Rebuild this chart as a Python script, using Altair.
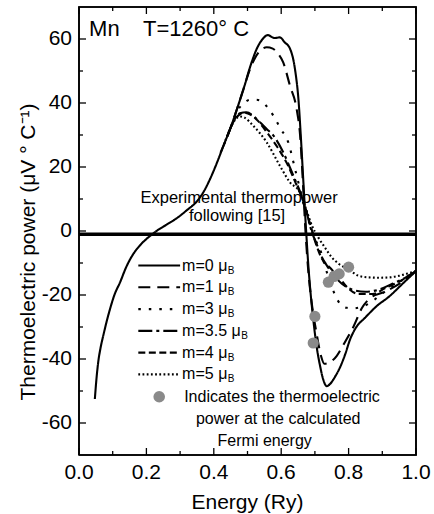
import altair as alt
import pandas as pd

# ---------------- data ----------------
series_names = ["m=0", "m=1", "m=3", "m=3.5", "m=4", "m=5"]

m0_x = [0.047, 0.052, 0.057, 0.064, 0.072, 0.082, 0.092, 0.105, 0.122, 0.14, 0.161, 0.18, 0.2, 0.215,
        0.23, 0.26, 0.29, 0.32, 0.35, 0.37, 0.39, 0.41, 0.43, 0.45, 0.47, 0.49, 0.51, 0.53, 0.545,
        0.56, 0.58, 0.596, 0.61, 0.626, 0.641, 0.652, 0.658, 0.666, 0.674, 0.68, 0.686, 0.695,
        0.705, 0.715, 0.725, 0.735, 0.745, 0.76, 0.775, 0.79, 0.804, 0.82, 0.85, 0.883, 0.92, 0.96, 1.0]
m0_y = [-52.5, -46, -41, -36.5, -32.7, -28.3, -24.4, -20, -16, -11.3, -7.2, -4.6, -2.5, -1.2,
        0, 2, 4, 6.5, 9.3, 12.3, 16.5, 21.5, 27, 32.3, 38.5, 45, 52, 57.5, 60,
        61.2, 60.3, 60.5, 59, 57, 50.5, 40, 30, 15, 0, -10, -18, -27.5,
        -36, -42, -46.5, -48.5, -47.8, -45.5, -42.5, -38.5, -34, -30.5, -27, -23.5, -20.5, -16.5, -12.5]

m1_x = [0.42, 0.45, 0.47, 0.49, 0.507, 0.522, 0.537, 0.557, 0.575, 0.59, 0.606, 0.626, 0.646, 0.656,
        0.665, 0.672, 0.68, 0.69, 0.705, 0.718, 0.728, 0.745, 0.765, 0.785, 0.814, 0.84, 0.87, 0.9, 0.95, 1.0]
m1_y = [24.5, 32.3, 38.5, 45, 50.5, 54, 56.3, 57.4, 57, 55.5, 52.7, 45.4, 38, 30,
        14, 0, -12, -22, -32, -39, -41.5, -41, -39, -35.5, -30, -24, -20.5, -19.3, -16.5, -12.5]

m3_x = [0.45, 0.47, 0.49, 0.507, 0.525, 0.545, 0.56, 0.577, 0.598, 0.621, 0.641, 0.656, 0.672, 0.686,
        0.70, 0.715, 0.73, 0.745, 0.76, 0.775, 0.795, 0.814, 0.835, 0.858, 0.9, 0.95, 1.0]
m3_y = [32.3, 37.5, 40, 41, 41, 40.4, 38.5, 36, 32, 27.7, 19.4, 13, 6, 1.7,
        -2.5, -5.6, -11, -16, -20, -22.8, -24, -24.2, -23.8, -22.8, -19.5, -16, -12.5]

m35_x = [0.44, 0.46, 0.477, 0.497, 0.517, 0.537, 0.557, 0.577, 0.606, 0.636, 0.656, 0.675, 0.69,
         0.705, 0.72, 0.74, 0.757, 0.78, 0.81, 0.85, 0.89, 0.93, 0.97, 1.0]
m35_y = [29.6, 34.5, 36.8, 37.1, 36, 34, 31.9, 29.8, 24.6, 17.3, 12.2, 6, 0,
         -4, -8, -11.5, -14, -16.5, -18.3, -19, -18.3, -16.5, -14.5, -12.5]

m4_x = [0.44, 0.46, 0.475, 0.49, 0.51, 0.53, 0.56, 0.59, 0.62, 0.645, 0.665, 0.685, 0.70, 0.72,
        0.745, 0.772, 0.795, 0.83, 0.87, 0.91, 0.95, 1.0]
m4_y = [29.6, 34.5, 36.3, 37, 36.3, 34.5, 30.5, 26, 20.5, 14.5, 9.5, 2.5, -3, -8.5,
        -11.5, -14.5, -17.5, -19.7, -19.7, -17.8, -15.8, -12.5]

m5_x = [0.43, 0.45, 0.465, 0.478, 0.49, 0.517, 0.557, 0.596, 0.626, 0.656, 0.675, 0.69, 0.71, 0.73,
        0.75, 0.77, 0.79, 0.81, 0.83, 0.86, 0.89, 0.92, 0.95, 0.975, 1.0]
m5_y = [27, 32.3, 35, 35.8, 35.5, 32.9, 27.7, 20.4, 15.2, 12, 6.5, 2, -2, -5.2,
        -8.2, -10.2, -11.5, -12.8, -14, -14.5, -14.6, -14.5, -14, -13.3, -12.5]

# thermoelectric power at the calculated Fermi energies
fermi_x = [0.695, 0.70, 0.74, 0.757, 0.772, 0.80]
fermi_y = [-35, -26.7, -16, -14.2, -13.4, -11.3]

# experimental thermopower
exp_x = [0.0, 1.0]
exp_y = [-1.0, -1.0]

x_domain = [0.0, 1.0]
y_domain = [-70, 70]
x_ticks_major = [0.0, 0.2, 0.4, 0.6, 0.8, 1.0]
x_ticks_minor = [0.1, 0.3, 0.5, 0.7, 0.9]
y_ticks_major = [-60, -40, -20, 0, 20, 40, 60]
y_ticks_minor = [-50, -30, -10, 10, 30, 50]
x_title = "Energy (Ry)"
y_title = "Thermoelectric power (μV ° C⁻¹)"

# ---------------- build tables ----------------
xs = [m0_x, m1_x, m3_x, m35_x, m4_x, m5_x]
ys = [m0_y, m1_y, m3_y, m35_y, m4_y, m5_y]
curves = pd.concat(
    [pd.DataFrame({"x": a, "y": b, "series": n}) for n, a, b in zip(series_names, xs, ys)],
    ignore_index=True,
)
fermi = pd.DataFrame({"x": fermi_x, "y": fermi_y})
exp_df = pd.DataFrame({"x": exp_x, "y": exp_y})

FONT = "Liberation Sans"
W, H = 337, 448
MAJ, MIN = 7, 4
dash_range = [[1, 0], [12, 7], [2.5, 8], [14, 4, 3, 4], [7, 3.5], [1.8, 2.4]]
width_range = [2.1, 2.1, 2.7, 2.1, 2.1, 1.9]
dash_scale = alt.Scale(domain=series_names, range=dash_range)
sw_scale = alt.Scale(domain=series_names, range=width_range)

xs_scale = alt.Scale(domain=x_domain, nice=False, zero=False)
ys_scale = alt.Scale(domain=y_domain, nice=False, zero=False)
y_per_px = (y_domain[1] - y_domain[0]) / H
x_per_px = (x_domain[1] - x_domain[0]) / W


def X(field="x"):
    return alt.X(f"{field}:Q", scale=xs_scale, axis=None)


def Y(field="y"):
    return alt.Y(f"{field}:Q", scale=ys_scale, axis=None)


lines = alt.Chart(curves).mark_line(color="black", interpolate="monotone").encode(
    x=X("x"),
    y=Y("y"),
    detail="series:N",
    strokeDash=alt.StrokeDash("series:N", scale=dash_scale, legend=None),
    strokeWidth=alt.StrokeWidth("series:N", scale=sw_scale, legend=None),
)

exp_line = alt.Chart(exp_df).mark_line(color="black", strokeWidth=3.5).encode(
    x=X("x"), y=Y("y")
)

dots = alt.Chart(fermi).mark_circle(color="#8a8a8a", opacity=1, size=125).encode(
    x=X("x"), y=Y("y")
)

# ---------------- frame and inward ticks drawn as line paths ----------------
x0, x1 = x_domain
y0, y1 = y_domain
frame_df = pd.DataFrame({"x": [x0, x1, x1, x0, x0], "y": [y0, y0, y1, y1, y0], "o": [0, 1, 2, 3, 4]})
frame = alt.Chart(frame_df).mark_line(color="black", strokeWidth=1.6).encode(
    x=X("x"), y=Y("y"), order="o:Q")

seg = []
k = 0
for vals, size in [(x_ticks_major, MAJ), (x_ticks_minor, MIN)]:
    for v in vals:
        for ya, yb in [(y0, y0 + size * y_per_px), (y1, y1 - size * y_per_px)]:
            seg += [{"id": k, "o": 0, "x": v, "y": ya}, {"id": k, "o": 1, "x": v, "y": yb}]
            k += 1
for vals, size in [(y_ticks_major, MAJ), (y_ticks_minor, MIN)]:
    for v in vals:
        for xa, xb in [(x0, x0 + size * x_per_px), (x1, x1 - size * x_per_px)]:
            seg += [{"id": k, "o": 0, "x": xa, "y": v}, {"id": k, "o": 1, "x": xb, "y": v}]
            k += 1
ticks = alt.Chart(pd.DataFrame(seg)).mark_line(color="black", strokeWidth=1.3).encode(
    x=X("x"), y=Y("y"), detail="id:N", order="o:Q")

# ---------------- tick labels and titles ----------------
xlab_df = pd.DataFrame({"x": x_ticks_major, "y": y0, "t": [f"{v:.1f}" for v in x_ticks_major]})
ylab_df = pd.DataFrame({"x": x0, "y": y_ticks_major, "t": [str(v) for v in y_ticks_major]})
xlabels = alt.Chart(xlab_df).mark_text(align="center", baseline="top", font=FONT, fontSize=21,
                                       color="black", dy=7).encode(x=X("x"), y=Y("y"), text="t:N")
ylabels = alt.Chart(ylab_df).mark_text(align="right", baseline="middle", font=FONT, fontSize=21,
                                       color="black", dx=-7).encode(x=X("x"), y=Y("y"), text="t:N")
xtitle = alt.Chart(pd.DataFrame({"x": [(x0 + x1) / 2], "y": [y0], "t": [x_title]})).mark_text(
    align="center", baseline="top", font=FONT, fontSize=21, color="black", dy=37
).encode(x=X("x"), y=Y("y"), text="t:N")
ytitle = alt.Chart(pd.DataFrame({"x": [x0 - 50 * x_per_px],
                                 "y": [(y0 + y1) / 2 - 21 * y_per_px], "t": [y_title]})).mark_text(
    align="center", baseline="middle", font=FONT, fontSize=21, color="black", angle=270
).encode(x=X("x"), y=Y("y"), text="t:N")

# ---------------- legend (drawn inside the plot) ----------------
leg_y0, leg_step = -10.8, -6.8
leg_x1, leg_x2, leg_tx = 0.176, 0.300, 0.306
arial = {"m": 833, "=": 584, "0": 556, "1": 556, "3": 556, "4": 556, "5": 556, ".": 278, " ": 278, "μ": 576}
leg_rows = []
for i, n in enumerate(series_names):
    lab = n + " μ"
    leg_rows.append({"series": n, "x1": leg_x1, "x2": leg_x2, "tx": leg_tx,
                     "y": leg_y0 + i * leg_step, "label": lab,
                     "w": sum(arial[c] for c in lab) * 16 / 1000.0})
leg_df = pd.DataFrame(leg_rows)

leg_lines = alt.Chart(leg_df).mark_rule(color="black").encode(
    x=X("x1"), x2="x2", y=Y("y"),
    strokeDash=alt.StrokeDash("series:N", scale=dash_scale, legend=None),
    strokeWidth=alt.StrokeWidth("series:N", scale=sw_scale, legend=None),
)
leg_text = alt.Chart(leg_df).mark_text(align="left", baseline="middle", font=FONT,
                                       fontSize=16, color="black").encode(
    x=X("tx"), y=Y("y"), text="label:N"
)
sub_layers = []
for r in leg_rows:
    sub_layers.append(
        alt.Chart(pd.DataFrame([r])).mark_text(align="left", baseline="middle", font=FONT,
                                               fontSize=10, color="black", dx=r["w"] + 0.5, dy=5).encode(
            x=X("tx"), y=Y("y"), text=alt.value("B")
        )
    )

leg_dot = alt.Chart(pd.DataFrame({"x": [0.238], "y": [-51.8]})).mark_circle(
    color="#8a8a8a", opacity=1, size=135).encode(x=X("x"), y=Y("y"))

# ---------------- annotations ----------------
ann_big = pd.DataFrame({"x": [0.03, 0.19], "y": [60.8, 60.8], "t": ["Mn", "T=1260° C"]})
ann_center17 = pd.DataFrame({"x": [0.475, 0.469], "y": [8.7, 3.0],
                             "t": ["Experimental thermopower", "following [15]"]})
ann_left16 = pd.DataFrame({"x": [0.312], "y": [-53.5], "t": ["Indicates the thermoelectric"]})
ann_center16 = pd.DataFrame({"x": [0.591, 0.551], "y": [-60.3, -67.1],
                             "t": ["power at the calculated", "Fermi energy"]})

t_big = alt.Chart(ann_big).mark_text(align="left", baseline="alphabetic", font=FONT, fontSize=22,
                                     color="black").encode(x=X("x"), y=Y("y"), text="t:N")
t_c17 = alt.Chart(ann_center17).mark_text(align="center", baseline="alphabetic", font=FONT,
                                          fontSize=16.5, color="black").encode(x=X("x"), y=Y("y"), text="t:N")
t_l16 = alt.Chart(ann_left16).mark_text(align="left", baseline="alphabetic", font=FONT,
                                        fontSize=16, color="black").encode(x=X("x"), y=Y("y"), text="t:N")
t_c16 = alt.Chart(ann_center16).mark_text(align="center", baseline="alphabetic", font=FONT,
                                          fontSize=16, color="black").encode(x=X("x"), y=Y("y"), text="t:N")

chart = alt.layer(
    lines, exp_line, dots, leg_lines, leg_text, *sub_layers, leg_dot,
    t_big, t_c17, t_l16, t_c16, xlabels, ylabels, xtitle, ytitle, frame, ticks
).properties(
    width=W, height=H,
    background="white",
    autosize=alt.AutoSizeParams(type="none"),
    padding={"left": 79, "top": 7, "right": 18, "bottom": 59},
).configure_view(
    stroke="black", strokeWidth=1.6
)

chart.save("out.html", embed_options={"renderer": "svg", "actions": False})
